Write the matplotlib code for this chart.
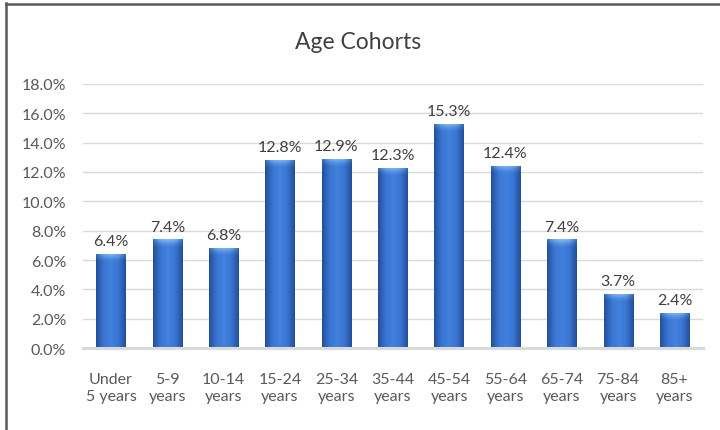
import numpy as np
import matplotlib
matplotlib.use('Agg')
import matplotlib.pyplot as plt
from matplotlib.lines import Line2D
from matplotlib.colors import LinearSegmentedColormap

plt.rcParams['font.family'] = ['Lato', 'DejaVu Sans']

categories = ['Under\n5 years', '5-9\nyears', '10-14\nyears', '15-24\nyears', '25-34\nyears',
              '35-44\nyears', '45-54\nyears', '55-64\nyears', '65-74\nyears', '75-84\nyears',
              '85+\nyears']
shares = [6.4, 7.4, 6.8, 12.8, 12.9, 12.3, 15.3, 12.4, 7.4, 3.7, 2.4]

fig = plt.figure(figsize=(7.2, 4.31), dpi=100)
ax = fig.add_axes([0.115, 0.19, 0.861, 0.613])

x = np.arange(len(categories))
bars = ax.bar(x, shares, width=0.52, color='#3b6fc6', zorder=2)

# horizontal shading like the Excel bevel
cmap = LinearSegmentedColormap.from_list('bev', ['#234f9a', '#3a75d2', '#4381df', '#3a75d2', '#234f9a'])
grad = np.linspace(0, 1, 64).reshape(1, -1)
# light highlight fading in toward the top of each bar
hl = np.ones((40, 64, 4))
hl[:, :, 0], hl[:, :, 1], hl[:, :, 2] = 0.6, 0.82, 1.0
ramp = np.linspace(0, 1, 40) ** 1.5
hl[:, :, 3] = (ramp * 0.8)[:, None] * (1 - 0.7 * np.abs(np.linspace(-1, 1, 64)) ** 2)[None, :]
for b in bars:
    x0, w, h = b.get_x(), b.get_width(), b.get_height()
    im = ax.imshow(grad, cmap=cmap, extent=(x0, x0 + w, 0, h), aspect='auto', zorder=3)
    im.set_clip_path(b)
    cap = ax.imshow(hl, extent=(x0, x0 + w, h - 0.55, h), aspect='auto', zorder=4, origin='lower')
    cap.set_clip_path(b)
    ax.text(x0 + w / 2, h + 0.4, f'{h:.1f}%', ha='center', va='bottom',
            fontsize=11.5, color='#404040')

ax.set_xlim(-0.5, len(categories) - 0.5)
ax.set_ylim(0, 18)
ax.set_yticks(np.arange(0, 18.1, 2))
ax.set_yticklabels([f'{v:.1f}%' for v in np.arange(0, 18.1, 2)])
ax.set_xticks(x)
ax.set_xticklabels(categories, linespacing=1.3)
ax.tick_params(length=0, labelsize=11.5, colors='#595959')
ax.tick_params(axis='x', pad=17)
ax.tick_params(axis='y', pad=12)
ax.grid(axis='y', color='#d9d9d9', linewidth=1, zorder=0)
ax.set_axisbelow(True)
for s in ['top', 'right', 'left']:
    ax.spines[s].set_visible(False)
ax.spines['bottom'].set_color('#d9d9d9')
ax.spines['bottom'].set_linewidth(2.2)
ax.spines['bottom'].set_zorder(5)

fig.text(0.497, 0.902, 'Age Cohorts', ha='center', va='center', fontsize=16.5, color='#404040')

# chart frame (only left and top visible)
fig.add_artist(Line2D([0.0085, 0.0085], [0, 0.99], transform=fig.transFigure, color='#595959', lw=1.8))
fig.add_artist(Line2D([0.0085, 1], [0.988, 0.988], transform=fig.transFigure, color='#595959', lw=1.8))

fig.savefig('out.png', dpi=100)
